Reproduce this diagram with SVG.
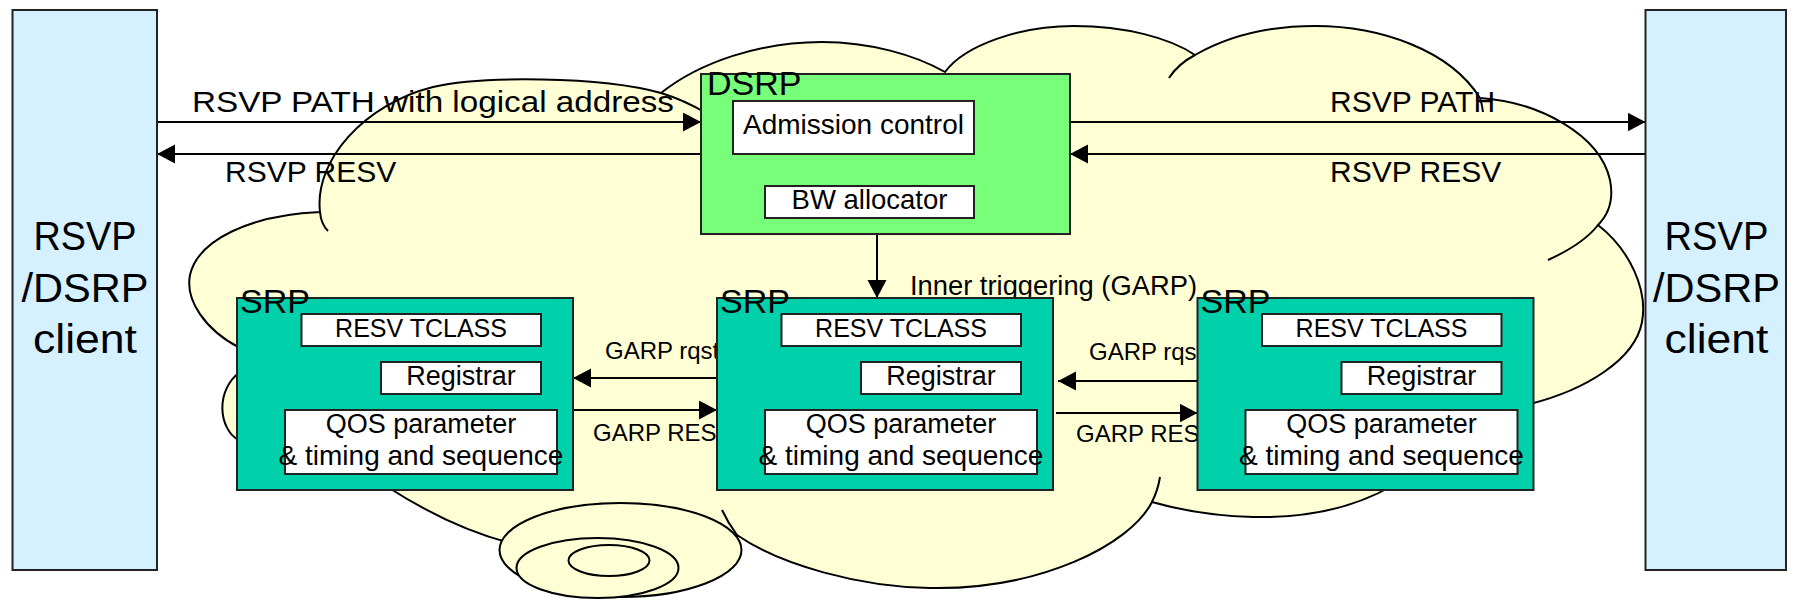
<svg xmlns="http://www.w3.org/2000/svg" width="1798" height="600" viewBox="0 0 1798 600">
<defs>
<marker id="arr" markerUnits="userSpaceOnUse" markerWidth="20" markerHeight="20" refX="18" refY="9.5" orient="auto"><path d="M0,0 L18,9.5 L0,19 z" fill="#000"/></marker>
<style>
.cloud{fill:#FFFFD5;stroke:#000;stroke-width:2}
.hang{fill:none;stroke:#000;stroke-width:2}
.client{fill:#D5F0FF;stroke:#222;stroke-width:2}
.dsrp{fill:#77FF7A;stroke:#222;stroke-width:2}
.srp{fill:#00D1AA;stroke:#222;stroke-width:2}
.inner{fill:#fff;stroke:#222;stroke-width:2}
.conn line{stroke:#000;stroke-width:2;fill:none}
text{font-family:"Liberation Sans",Arial,sans-serif;fill:#000}
.lbl{font-size:30px}
.glbl{font-size:24px}
.title{font-size:34px}
.cl{font-size:40px;text-anchor:middle}
.in{text-anchor:middle}
</style>
</defs>
<rect width="1798" height="600" fill="#fff"/>
<g id="cloud">
<path class="cloud" d="M 320,212 C 314,160 365,104 433,87 C 480,76 600,76 661,93 C 700,62 760,42 822,42 C 870,42 915,55 945,72 C 965,45 1020,26 1074,26 C 1125,26 1170,38 1195,55 C 1230,35 1270,26 1315,26 C 1380,26 1450,50 1480,98 C 1540,102 1600,135 1610,180 C 1614,200 1608,215 1598,225 C 1630,250 1648,290 1642,322 C 1635,360 1585,390 1530,404 L 1520,420 L 1400,480 L 1392,486 C 1350,510 1300,518 1253,517 C 1215,516 1180,510 1152,502 C 1130,545 1040,590 930,588 C 860,587 780,565 737,535 L 730,548 L 540,550 L 510,543 C 460,530 420,508 386,486 L 380,480 L 250,440 L 240,441 C 218,430 215,390 240,372 L 250,370 L 250,350 L 240,348 C 205,330 185,300 190,275 C 198,240 250,215 320,212 Z"/>
<path class="hang" d="M 320,212 Q 321,224 328,231 M 661,93 Q 684,100 706,113 M 1169,78 Q 1178,64 1195,55 M 1480,98 Q 1482,104 1483,112 M 1598,225 C 1588,238 1570,250 1548,260 M 1152,502 Q 1158,490 1160,477 M 737,535 Q 728,523 722,510"/>
<ellipse class="cloud" cx="620.5" cy="550" rx="121" ry="47"/>
<ellipse class="cloud" cx="597.5" cy="568" rx="81" ry="30"/>
<ellipse class="cloud" cx="609" cy="560.5" rx="40.5" ry="15.5"/>
</g>
<g id="connectors" class="conn">
<line x1="157" y1="122" x2="701" y2="122" marker-end="url(#arr)"/>
<line x1="701" y1="154" x2="157" y2="154" marker-end="url(#arr)"/>
<line x1="1070" y1="122" x2="1645.5" y2="122" marker-end="url(#arr)"/>
<line x1="1645.5" y1="154" x2="1070" y2="154" marker-end="url(#arr)"/>
<line x1="877" y1="234" x2="877" y2="298" marker-end="url(#arr)"/>
<line x1="717" y1="378" x2="573" y2="378" marker-end="url(#arr)"/>
<line x1="573" y1="410" x2="717" y2="410" marker-end="url(#arr)"/>
<line x1="1197.5" y1="381" x2="1058" y2="381" marker-end="url(#arr)"/>
<line x1="1056" y1="413" x2="1197.5" y2="413" marker-end="url(#arr)"/>
<text class="lbl" x="192" y="112" font-size="32" textLength="482" lengthAdjust="spacingAndGlyphs">RSVP PATH with logical address</text>
<text class="lbl" x="225" y="182">RSVP RESV</text>
<text class="lbl" x="1330" y="112">RSVP PATH</text>
<text class="lbl" x="1330" y="182">RSVP RESV</text>
<text x="910" y="295" font-size="27" textLength="287" lengthAdjust="spacingAndGlyphs">Inner triggering (GARP)</text>
<text class="glbl" x="605" y="359">GARP rqst</text>
<text class="glbl" x="593" y="441">GARP RESV</text>
<text class="glbl" x="1089" y="360">GARP rqst</text>
<text class="glbl" x="1076" y="442">GARP RESV</text>
</g>
<g id="client-left">
<rect class="client" x="12.5" y="10" width="144.5" height="560"/>
<text class="cl" x="85" y="250" textLength="103" lengthAdjust="spacingAndGlyphs">RSVP</text>
<text class="cl" x="85" y="301.5" textLength="127" lengthAdjust="spacingAndGlyphs">/DSRP</text>
<text class="cl" x="85" y="353" textLength="104" lengthAdjust="spacingAndGlyphs">client</text>
</g>
<g id="client-right">
<rect class="client" x="1645.5" y="10" width="140.5" height="560"/>
<text class="cl" x="1716.5" y="250" textLength="104" lengthAdjust="spacingAndGlyphs">RSVP</text>
<text class="cl" x="1716.5" y="301.5" textLength="127" lengthAdjust="spacingAndGlyphs">/DSRP</text>
<text class="cl" x="1716.5" y="353" textLength="104" lengthAdjust="spacingAndGlyphs">client</text>
</g>
<g id="dsrp">
<rect class="dsrp" x="701" y="74" width="369" height="160"/>
<text class="title" x="707" y="95">DSRP</text>
<rect class="inner" x="733" y="101" width="241" height="53"/>
<text class="in" x="853.5" y="134" font-size="28">Admission control</text>
<rect class="inner" x="765" y="186" width="209" height="32"/>
<text class="in" x="869.5" y="209" font-size="27.5">BW allocator</text>
</g>
<g id="srp1">
<rect class="srp" x="237" y="298" width="336" height="192"/>
<text class="title" x="240" y="312.5">SRP</text>
<rect class="inner" x="301.5" y="314" width="239.5" height="32"/>
<text class="in" x="421" y="337" font-size="25">RESV TCLASS</text>
<rect class="inner" x="381" y="362" width="160" height="32"/>
<text class="in" x="461" y="385" font-size="27">Registrar</text>
<rect class="inner" x="285" y="410" width="272" height="64"/>
<text class="in" x="421" y="433" font-size="27">QOS parameter</text>
<text class="in" x="421" y="465" font-size="28">&amp; timing and sequence</text>
</g>
<g id="srp2">
<rect class="srp" x="717" y="298" width="336" height="192"/>
<text class="title" x="720" y="312.5">SRP</text>
<rect class="inner" x="781.5" y="314" width="239.5" height="32"/>
<text class="in" x="901" y="337" font-size="25">RESV TCLASS</text>
<rect class="inner" x="861" y="362" width="160" height="32"/>
<text class="in" x="941" y="385" font-size="27">Registrar</text>
<rect class="inner" x="765" y="410" width="272" height="64"/>
<text class="in" x="901" y="433" font-size="27">QOS parameter</text>
<text class="in" x="901" y="465" font-size="28">&amp; timing and sequence</text>
</g>
<g id="srp3">
<rect class="srp" x="1197.5" y="298" width="336" height="192"/>
<text class="title" x="1200.5" y="312.5">SRP</text>
<rect class="inner" x="1262" y="314" width="239.5" height="32"/>
<text class="in" x="1381.5" y="337" font-size="25">RESV TCLASS</text>
<rect class="inner" x="1341.5" y="362" width="160" height="32"/>
<text class="in" x="1421.5" y="385" font-size="27">Registrar</text>
<rect class="inner" x="1245.5" y="410" width="272" height="64"/>
<text class="in" x="1381.5" y="433" font-size="27">QOS parameter</text>
<text class="in" x="1381.5" y="465" font-size="28">&amp; timing and sequence</text>
</g>
</svg>
